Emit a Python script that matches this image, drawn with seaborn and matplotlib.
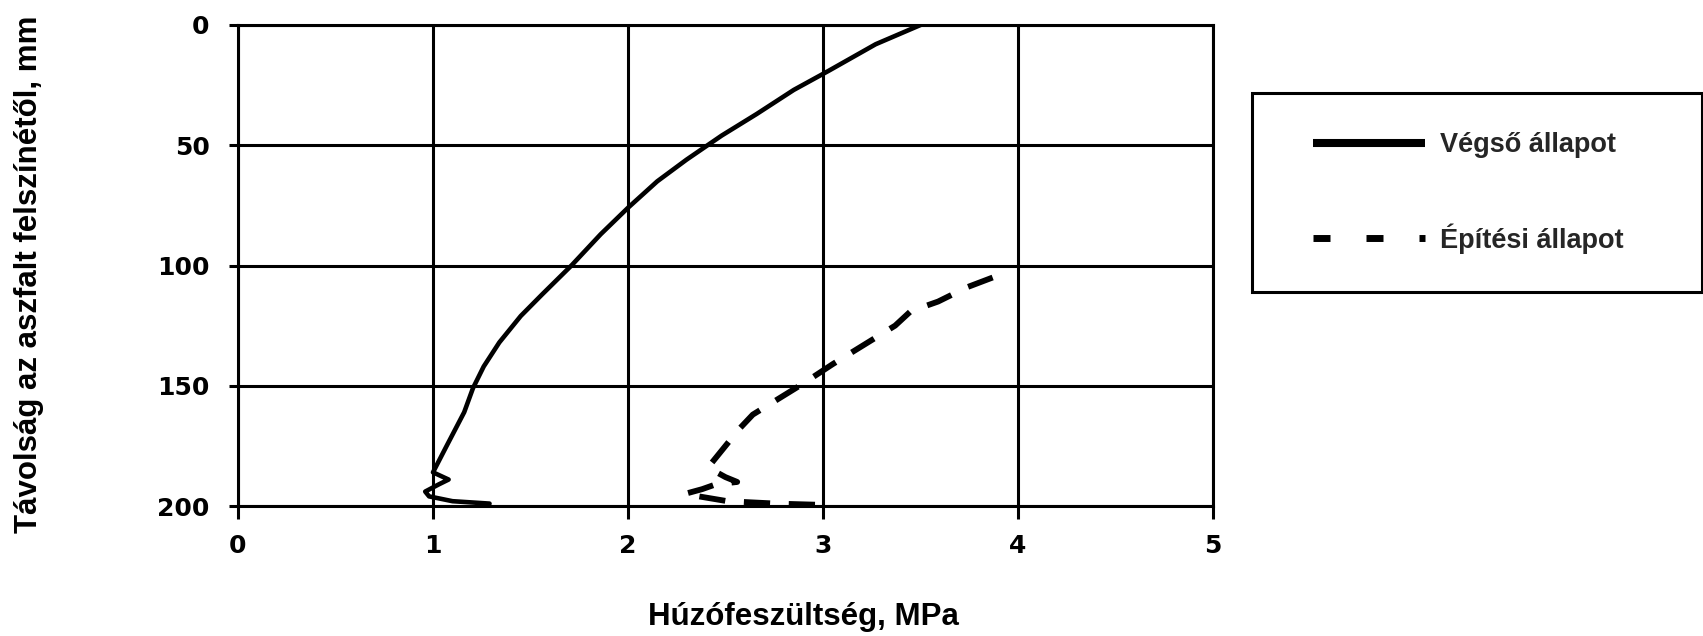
import matplotlib
matplotlib.use("Agg")
import matplotlib.pyplot as plt
import numpy as np
import pandas as pd
import seaborn as sns
from matplotlib.lines import Line2D
from matplotlib.patches import Rectangle

# ---- data ----
final_stress = [3.50, 3.27, 3.03, 2.85, 2.66, 2.48, 2.30, 2.15, 2.00, 1.86, 1.71, 1.56,
                1.45, 1.34, 1.26, 1.205, 1.16, 1.07, 1.00, 1.08, 1.03, 0.96, 0.98, 1.10, 1.29]
final_depth = [0, 8, 19, 27, 37, 46, 56, 65, 76, 87, 100, 112,
               121, 132, 142, 151, 161, 175, 186, 189, 191, 194, 196, 198, 199]

constr_stress = [3.87, 3.74, 3.59, 3.45, 3.37, 3.21, 3.05, 2.90, 2.78, 2.64, 2.57,
                 2.49, 2.41, 2.50, 2.56, 2.45, 2.38, 2.29, 2.51, 2.76, 2.98]
constr_depth = [105, 109, 115, 119, 125, 133, 141, 149, 155, 162, 168,
                176, 184, 188, 190, 191, 193, 195, 198, 199, 199.5]

x_ticks = [0, 1, 2, 3, 4, 5]
y_ticks = [0, 50, 100, 150, 200]
series_labels = ["Végső állapot", "Építési állapot"]
x_title = "Húzófeszültség, MPa"
y_title = "Távolság az aszfalt felszínétől, mm"

# ---- style ----
sns.set_theme(style="white")
plt.rcParams["font.family"] = ["Liberation Sans", "DejaVu Sans"]

W, H = 1703, 636
fig = plt.figure(figsize=(W / 100, H / 100), dpi=100)
ax = fig.add_axes([238 / W, 1 - 506 / H, 975 / W, 481 / H])

df_final = pd.DataFrame({"stress": final_stress, "depth": final_depth})
df_constr = pd.DataFrame({"stress": constr_stress, "depth": constr_depth})

sns.lineplot(data=df_final, x="stress", y="depth", sort=False, estimator=None,
             color="black", linewidth=3.3, ax=ax)
sns.lineplot(data=df_constr, x="stress", y="depth", sort=False, estimator=None,
             color="black", linewidth=4.2, ax=ax)
ax.lines[1].set_linestyle((0, (4.5, 3.2)))
ax.lines[1].set_dash_capstyle("butt")

ax.set_xlim(0, 5)
ax.set_ylim(200, 0)
ax.set_xticks(x_ticks)
ax.set_yticks(y_ticks)
ax.set_xticklabels([str(v) for v in x_ticks])
ax.set_yticklabels([str(v) for v in y_ticks])
ax.set_xlabel("")
ax.set_ylabel("")
ax.set_axisbelow(True)
ax.grid(True, color="black", linewidth=2.2)
for s in ax.spines.values():
    s.set_visible(True)
    s.set_color("black")
    s.set_linewidth(2.2)

ax.tick_params(axis="both", direction="out", width=2.2, color="black",
               labelcolor="black", bottom=True, left=True)
ax.tick_params(axis="y", length=6.5, pad=14)
ax.tick_params(axis="x", length=9.0, pad=11)
for lbl in ax.get_xticklabels() + ax.get_yticklabels():
    lbl.set_fontfamily("DejaVu Sans")
    lbl.set_fontweight("bold")
    lbl.set_fontsize(18)

# axis titles
fig.text(803 / W, 1 - 617 / H, x_title, ha="center", va="center",
         fontsize=22.5, fontweight="bold", color="black")
fig.text(29 / W, 1 - 274 / H, y_title, ha="center", va="center", rotation=90,
         fontsize=22.5, fontweight="bold", color="black")

# legend
fs = 19.5
fs_px = fs * 100 / 72
handles = [
    Line2D([], [], color="black", linewidth=5.8, solid_capstyle="butt"),
    Line2D([], [], color="black", linewidth=5.0,
           linestyle=(0, (17 / (5.0 * 100 / 72), 36 / (5.0 * 100 / 72))),
           dash_capstyle="butt"),
]
fig.legend(handles, series_labels, loc="center left",
           bbox_to_anchor=(1313 / W, 1 - 193 / H), bbox_transform=fig.transFigure,
           frameon=False, borderpad=0, borderaxespad=0,
           handlelength=112 / fs_px, handletextpad=15 / fs_px,
           labelspacing=2.4, prop={"weight": "bold", "size": fs})
fig.add_artist(Rectangle((1252 / W, 1 - 292 / H), 450 / W, 199 / H,
                         transform=fig.transFigure, fill=False,
                         edgecolor="black", linewidth=2.2))

fig.savefig("out.png", dpi=100, facecolor="white")
